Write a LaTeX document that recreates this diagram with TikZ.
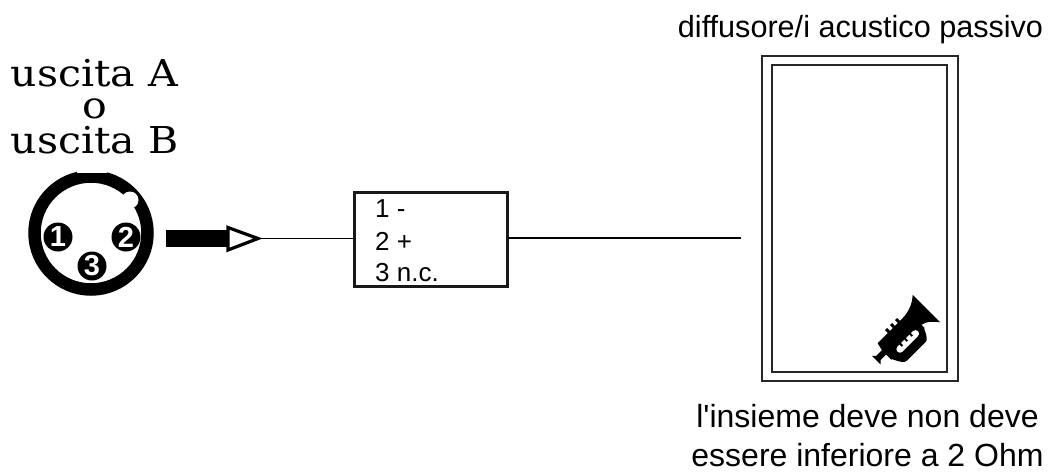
\documentclass[tikz,border=0pt]{standalone}
\usepackage{fontspec}
\newfontfamily\plainsans{Liberation Sans}
\setmainfont{Liberation Sans}
\newfontfamily\wideserif[FakeStretch=1.11]{DejaVu Serif}
\tikzset{
  px/.style={x=1pt,y=-1pt},
  ttl/.style={font=\wideserif\fontsize{37}{37}\selectfont,inner sep=0pt,anchor=base},
  sans/.style={font=\plainsans\fontsize{30.6}{37}\selectfont,inner sep=0pt,anchor=base},
  sansb/.style={font=\plainsans\fontsize{32}{39}\selectfont,inner sep=0pt,anchor=base},
  pinlab/.style={font=\bfseries\fontsize{29}{29}\selectfont,text=white,fill=black,circle,minimum size=29pt,inner sep=0pt},
  wire/.style={line width=1.8pt},
  frame/.style={draw=black!85,line width=1.8pt,fill=none},
  boxed/.style={draw=black!90,line width=2.4pt,minimum width=153pt,minimum height=94pt,inner sep=0pt,outer sep=0pt},
  boxlab/.style={font=\fontsize{26}{26}\selectfont,inner sep=0pt,anchor=west}
}
\begin{document}
\begin{tikzpicture}[px]
\useasboundingbox (0,0) rectangle (1051,471);
\fill[white] (0,0) rectangle (1051,471);
\node[ttl] (t1) at (94.5,86) {uscita A};
\node[ttl] (t2) at (94.5,118) {o};
\node[ttl] (t3) at (94.5,153) {uscita B};
% XLR connector
\coordinate (xc) at (91,233);
\draw[line width=12.5pt,black] (xc) circle (56.5pt);
\fill[white] (77,168) rectangle (107,172.8);
\fill[white] (130,200) circle (8.5pt);
\node[pinlab] (p1) at (58,237) {1};
\node[pinlab] (p2) at (126,237) {2};
\node[pinlab] (p3) at (92,266) {3};
% arrow
\coordinate (tip) at (258,238.5);
\fill[black] (166,230) rectangle (229,247);
\draw[line width=3.2pt,miter limit=10,fill=white] (228,227.5) -- (tip) -- (228,250) -- cycle;
% box
\node[boxed,anchor=north west] (bx) at (354.5,192.5) {};
\node[boxlab] (l1) at (375,209) {1 -};
\node[boxlab] (l2) at (375,241) {2 +};
\node[boxlab] (l3) at (375,273) {3 n.c.};
\coordinate (send) at (741,238);
\draw[wire] (tip) -- (bx.west |- tip);
\draw[wire] (bx.east |- send) -- (send);
% speaker
\draw[frame] (762,56) rectangle (958,381);
\draw[frame] (772,65) rectangle (947,372);
\node[sans] (top) at (860.5,37) {diffusore/i acustico passivo};
\node[sansb] (bot1) at (867.5,427) {l'insieme deve non deve};
\node[sansb] (bot2) at (867.5,466) {essere inferiore a 2 Ohm};
% trumpet
\begin{scope}[shift={(901,334)},rotate=45]
\fill[black] (-36,-5) -- (-33,-2) -- (-25,-2) -- (-23,-10) -- (11,-10) .. controls (22,-10) and (30,-14) .. (36,-19.5) -- (36,19.5) .. controls (31,13) and (27,9) .. (21,8) -- (21,13)
 to[out=90,in=0] (12,23) -- (-15,23) to[out=180,in=90] (-25,12) -- (-25,4) -- (-33,4) -- (-36,7) -- cycle;
\fill[black] (-8.5,-8) rectangle (-5.5,-14);
\fill[black] (-1.5,-8) rectangle (1.5,-14);
\fill[black] (5.5,-8) rectangle (8.5,-14);
\fill[white,rounded corners=3.4pt] (-15,6.5) rectangle (14,13.5);
\fill[black] (-8.5,5.5) rectangle (-6.5,9.5);
\fill[black] (-1.5,5.5) rectangle (0.5,9.5);
\fill[black] (5.5,5.5) rectangle (7.5,9.5);
\end{scope}
\end{tikzpicture}
\end{document}
